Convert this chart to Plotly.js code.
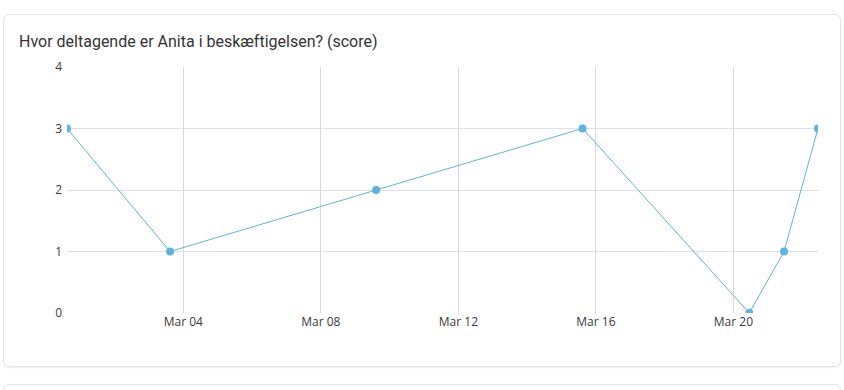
<!DOCTYPE html>
<html>
<head>
<meta charset="utf-8">
<script src="https://cdn.plot.ly/plotly-3.0.1.min.js"></script>
<style>
html,body{margin:0;padding:0;background:#fff;width:844px;height:390px;overflow:hidden;}
.card{position:absolute;left:3px;width:836px;border:1px solid #e6e6e6;border-radius:6px;background:#fff;box-shadow:0 1px 2px rgba(0,0,0,0.06);}
#c1{top:14px;height:351px;}
#c2{top:384px;height:60px;}
#chart{position:absolute;left:0;top:0;width:844px;height:390px;}
</style>
</head>
<body>
<div class="card" id="c1"></div>
<div class="card" id="c2"></div>
<div id="chart"></div>
<script>
const chartTitle = "Hvor deltagende er Anita i beskæftigelsen? (score)";
const dates = ["2024-02-29 14:45", "2024-03-03 14:43", "2024-03-09 14:35", "2024-03-15 14:41", "2024-03-20 11:03", "2024-03-21 11:20", "2024-03-22 11:03"];
const scores = [3, 1, 2, 3, 0, 1, 3];
const yTicks = [0, 1, 2, 3, 4];

const trace = {
  x: dates,
  y: scores,
  type: "scatter",
  mode: "lines+markers",
  line: {color: "#5eb3df", width: 1},
  marker: {color: "#5eb3df", size: 8},
  hoverinfo: "x+y"
};

const layout = {
  width: 844,
  height: 390,
  margin: {l: 67, r: 26, t: 67, b: 77},
  paper_bgcolor: "rgba(0,0,0,0)",
  plot_bgcolor: "rgba(0,0,0,0)",
  showlegend: false,
  font: {family: "'Open Sans', sans-serif", size: 12, color: "#444"},
  title: {
    text: chartTitle,
    font: {family: "Roboto, sans-serif", size: 16, color: "#333"},
    xref: "container", yref: "container",
    x: 19/844, xanchor: "left",
    y: 1 - 41/390, yanchor: "middle"
  },
  xaxis: {
    type: "date",
    range: [dates[0], dates[dates.length - 1]],
    tickformat: "%b %d",
    dtick: 4 * 86400000,
    tick0: "2024-03-04",
    showgrid: true,
    gridcolor: "#d9d9d9",
    zeroline: false,
    showline: false,
    ticks: "",
    tickfont: {family: "'Open Sans', sans-serif", size: 12, color: "#3a3a3a"}
  },
  yaxis: {
    range: [0, 4],
    tickvals: yTicks,
    showgrid: true,
    gridcolor: "#e0e0e0",
    zeroline: false,
    showline: false,
    ticks: "",
    ticklabelstandoff: 4,
    tickfont: {family: "'Open Sans', sans-serif", size: 12, color: "#3a3a3a"}
  }
};

Plotly.newPlot("chart", [trace], layout, {displayModeBar: false, staticPlot: true});
</script>
</body>
</html>
